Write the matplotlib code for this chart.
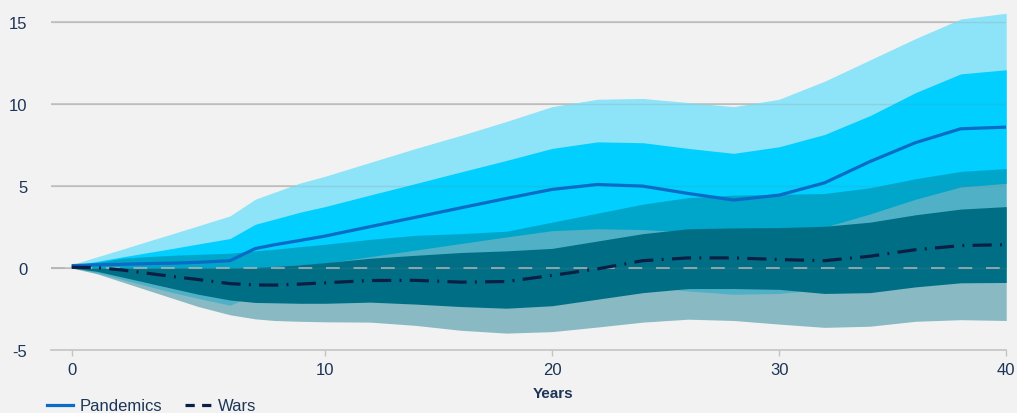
import numpy as np
import matplotlib
matplotlib.use("Agg")
import matplotlib.pyplot as plt
from matplotlib.lines import Line2D

plt.rcParams["font.family"] = ["Liberation Sans", "DejaVu Sans"]

# Horizon (years after the shock)
years = [0, 1, 2, 3, 4, 5, 6.25, 7.25, 8, 9, 10, 12, 14, 16, 18, 20, 22, 24,
         26, 28, 30, 32, 34, 36, 38, 40]

# Pandemics: median response and confidence bands
pand_median = [0.15, 0.2, 0.23, 0.27, 0.3, 0.35, 0.45, 1.19, 1.42, 1.68, 1.95,
               2.53, 3.1, 3.68, 4.25, 4.8, 5.1, 5.0, 4.55, 4.15, 4.45, 5.2,
               6.5, 7.65, 8.5, 8.6]
pand_outer_hi = [0.2, 0.68, 1.15, 1.63, 2.1, 2.58, 3.18, 4.2, 4.62, 5.18, 5.6,
                 6.45, 7.3, 8.1, 8.95, 9.85, 10.3, 10.35, 10.1, 9.85, 10.3,
                 11.4, 12.7, 14.0, 15.2, 15.55]
pand_inner_hi = [0.15, 0.41, 0.68, 0.94, 1.2, 1.47, 1.8, 2.67, 2.98, 3.4, 3.75,
                 4.46, 5.16, 5.87, 6.57, 7.3, 7.7, 7.65, 7.3, 7.0, 7.4, 8.15,
                 9.3, 10.7, 11.85, 12.1]
pand_inner_lo = [0.1, 0.0, -0.05, -0.1, -0.1, -0.1, -0.1, 0.0, 0.1, 0.2, 0.3,
                 0.7, 1.1, 1.5, 1.9, 2.28, 2.4, 2.35, 2.2, 2.1, 2.2, 2.5, 3.3,
                 4.2, 4.95, 5.17]
pand_outer_lo = [0.05, -0.3, -0.7, -1.1, -1.5, -1.85, -2.27, -1.6, -1.45,
                 -1.35, -1.25, -1.05, -0.9, -0.8, -0.75, -0.8, -0.9, -1.1,
                 -1.4, -1.6, -1.55, -1.3, -0.9, -0.5, -0.2, 0.0]

# Wars: median response and confidence bands
wars_median = [0.05, 0.03, -0.12, -0.32, -0.52, -0.7, -0.95, -1.03, -1.04,
               -0.98, -0.9, -0.76, -0.75, -0.86, -0.82, -0.45, -0.05, 0.45,
               0.62, 0.62, 0.52, 0.45, 0.72, 1.12, 1.37, 1.43]
wars_outer_hi = [0.1, 0.35, 0.6, 0.7, 0.78, 0.84, 0.9, 1.05, 1.15, 1.3, 1.45,
                 1.75, 2.0, 2.1, 2.25, 2.8, 3.35, 3.9, 4.3, 4.45, 4.5, 4.55,
                 4.9, 5.45, 5.9, 6.07]
wars_inner_hi = [0.05, 0.0, 0.0, 0.0, 0.0, 0.0, 0.0, 0.03, 0.1, 0.2, 0.33,
                 0.6, 0.78, 0.95, 1.05, 1.2, 1.65, 2.1, 2.4, 2.45, 2.47, 2.55,
                 2.8, 3.25, 3.6, 3.75]
wars_inner_lo = [0.0, -0.2, -0.55, -0.9, -1.25, -1.6, -1.95, -2.1, -2.12,
                 -2.15, -2.15, -2.08, -2.2, -2.35, -2.45, -2.3, -1.9, -1.5,
                 -1.25, -1.25, -1.3, -1.55, -1.5, -1.15, -0.9, -0.88]
wars_outer_lo = [0.0, -0.35, -0.85, -1.35, -1.85, -2.35, -2.85, -3.1, -3.2,
                 -3.25, -3.28, -3.3, -3.5, -3.8, -3.97, -3.88, -3.6, -3.3,
                 -3.12, -3.2, -3.42, -3.62, -3.55, -3.25, -3.15, -3.2]

x_ticks = [0, 10, 20, 30, 40]
y_ticks = [-5, 0, 5, 10, 15]

BG = "#f2f2f2"
TEXT = "#1d3557"
GRID = "#c4c4c4"
LIGHT_BLUE = "#8de3f7"
CYAN = "#00cfff"
TEAL = "#006f86"
PAND_LINE = "#0a6cc6"
WARS_LINE = "#0b1f45"

# First decade is drawn a little wider than later ones
K = 1.1153


def fwd(x):
    x = np.asarray(x, dtype=float)
    return np.where(x <= 10, x * K, 10 * K + (x - 10))


def inv(y):
    y = np.asarray(y, dtype=float)
    return np.where(y <= 10 * K, y / K, y - 10 * K + 10)


fig = plt.figure(figsize=(10.17, 4.14), dpi=100, facecolor=BG)
ax = fig.add_axes([0.0501, 0.1522, 0.9393, 0.8312], facecolor=BG)
ax.set_xscale("function", functions=(fwd, inv))

x = np.array(years)
ax.fill_between(x, pand_outer_lo, pand_outer_hi, color=LIGHT_BLUE, lw=0, zorder=1)
ax.fill_between(x, pand_inner_lo, pand_inner_hi, color=CYAN, lw=0, zorder=2)
ax.fill_between(x, wars_outer_lo, wars_outer_hi, color=TEAL, alpha=0.43, lw=0, zorder=3)
ax.fill_between(x, wars_inner_lo, wars_inner_hi, color=TEAL, lw=0, zorder=4)

# grid: solid below the bands, faint copy above them
for yv in y_ticks:
    if yv == -5:
        continue
    ax.axhline(yv, color=GRID, lw=1.2, zorder=0.5)
    ax.axhline(yv, color="#808080", lw=1.0, alpha=0.18, zorder=4.5)

ax.axhline(0, color="#b4b4b4", lw=1.1, dashes=(9, 9), zorder=5)

ax.plot(x, pand_median, color=PAND_LINE, lw=2.3, zorder=6,
        solid_capstyle="butt")
ax.plot(x, wars_median, color=WARS_LINE, lw=2.3, zorder=7,
        dashes=(6.0, 2.6, 0.6, 2.6))

ax.set_xlim(-0.817, 40)
ax.set_ylim(-5, 16)
ax.set_xticks(x_ticks)
ax.set_xticklabels([str(v) for v in x_ticks])
ax.set_yticks(y_ticks)
ax.set_yticklabels([str(v) for v in y_ticks])

for side in ("top", "right", "left"):
    ax.spines[side].set_visible(False)
ax.spines["bottom"].set_color(GRID)
ax.spines["bottom"].set_linewidth(1.2)

ax.tick_params(axis="x", colors=GRID, length=4, width=1, pad=5,
               labelcolor=TEXT, labelsize=12)
ax.tick_params(axis="y", length=0, pad=17, labelcolor=TEXT, labelsize=12)

ax.set_xlabel("Years", fontsize=11, fontweight="bold", color=TEXT)
ax.xaxis.set_label_coords(0.526, -0.104)

handles = [
    Line2D([], [], color=PAND_LINE, lw=2.3),
    Line2D([], [], color=WARS_LINE, lw=2.3, dashes=(2.9, 2.3)),
]
fig.legend(handles, ["Pandemics", "Wars"], loc="center left",
           bbox_to_anchor=(47 / 1017, 1 - 407 / 414), ncol=2, frameon=False,
           fontsize=12, labelcolor=TEXT, handlelength=1.56,
           handletextpad=0.42, columnspacing=1.32, borderpad=0,
           borderaxespad=0)

fig.savefig("out.png", dpi=100, facecolor=BG)
